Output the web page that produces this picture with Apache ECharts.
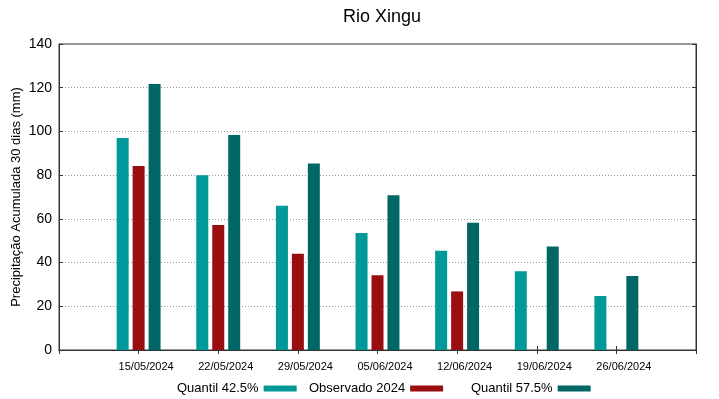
<!DOCTYPE html>
<html>
<head>
<meta charset="utf-8">
<script src="https://cdn.jsdelivr.net/npm/echarts@6/dist/echarts.min.js"></script>
<style>
  html, body { margin: 0; padding: 0; background: #fff; }
  #chart { width: 719px; height: 399px; }
</style>
</head>
<body>
<div id="chart"></div>
<script>
// datas do eixo x (com posições vazias nas pontas, como no gnuplot)
const dates = ['15/05/2024', '22/05/2024', '29/05/2024', '05/06/2024', '12/06/2024', '19/06/2024', '26/06/2024'];
const quantil425 = [97, 80, 66, 53.5, 45.4, 36, 24.7];
const observado2024 = [84.2, 57.2, 44, 34.2, 26.8, '-', '-'];
const quantil575 = [121.7, 98.4, 85.3, 70.8, 58.2, 47.3, 33.9];
const yTicks = [0, 20, 40, 60, 80, 100, 120, 140];

const categories = [''].concat(dates, ['']);
const pad = (arr) => ['-'].concat(arr, ['-']);

const FONT = 'Liberation Sans, Arial, sans-serif';
const chart = echarts.init(document.getElementById('chart'));

const seriesDef = [
  { name: 'Quantil 42.5%', data: quantil425, color: '#009999' },
  { name: 'Observado 2024', data: observado2024, color: '#990f0f' },
  { name: 'Quantil 57.5%', data: quantil575, color: '#006666' },
];

const option = {
  animation: false,
  backgroundColor: '#fff',
  title: {
    text: 'Rio Xingu',
    left: 377,
    top: 3,
    textAlign: 'center',
    textStyle: { fontFamily: FONT, fontSize: 18, fontWeight: 'normal', color: '#000' },
  },
  legend: [
    { data: ['Quantil 42.5%'], left: 172 },
    { data: ['Observado 2024'], left: 304 },
    { data: ['Quantil 57.5%'], left: 466 },
  ].map((l) => Object.assign(l, {
    top: 377,
    align: 'right',
    icon: 'rect',
    itemWidth: 33,
    itemHeight: 6,
    textStyle: { fontFamily: FONT, fontSize: 13, color: '#000' },
  })),
  grid: {
    left: 59,
    right: 23,
    top: 44,
    bottom: 49,
    outerBoundsMode: 'none',
    containLabel: false,
    show: true,
    borderColor: '#333',
    borderWidth: 1,
  },
  xAxis: [
    {
      type: 'category',
      data: categories,
      boundaryGap: false,
      axisLine: { lineStyle: { color: '#333' } },
      axisTick: { inside: true, length: 4, interval: 0, lineStyle: { color: '#333' } },
      axisLabel: {
        interval: 0,
        fontFamily: FONT,
        fontSize: 11,
        color: '#000',
        margin: 11,
        padding: [0, 0, 0, 15],
      },
      splitLine: { show: false },
    },
    {
      type: 'category',
      data: categories,
      position: 'top',
      boundaryGap: false,
      axisLine: { lineStyle: { color: '#333' } },
      axisTick: { inside: true, length: 4, interval: 0, lineStyle: { color: '#333' } },
      axisLabel: { show: false },
    },
  ],
  yAxis: [
    {
      type: 'value',
      min: yTicks[0],
      max: yTicks[yTicks.length - 1],
      interval: 20,
      name: 'Precipitação Acumulada 30 dias (mm)',
      nameLocation: 'middle',
      nameGap: 36,
      nameMoveOverlap: false,
      nameTextStyle: { fontFamily: FONT, fontSize: 13, color: '#000' },
      axisLine: { show: true, lineStyle: { color: '#333' } },
      axisTick: { show: true, inside: true, length: 4, lineStyle: { color: '#333' } },
      axisLabel: { fontFamily: FONT, fontSize: 14, color: '#000', margin: 7 },
      splitLine: { lineStyle: { color: '#999', type: [1, 2], width: 1 } },
    },
    {
      type: 'value',
      position: 'right',
      min: yTicks[0],
      max: yTicks[yTicks.length - 1],
      interval: 20,
      axisLine: { show: true, lineStyle: { color: '#333' } },
      axisTick: { show: true, inside: true, length: 4, lineStyle: { color: '#333' } },
      axisLabel: { show: false },
      splitLine: { show: false },
    },
  ],
  series: seriesDef.map((s) => ({
    name: s.name,
    type: 'bar',
    data: pad(s.data),
    barWidth: 12,
    barGap: '33%',
    itemStyle: { color: s.color },
  })),
};

chart.setOption(option);
</script>
</body>
</html>
